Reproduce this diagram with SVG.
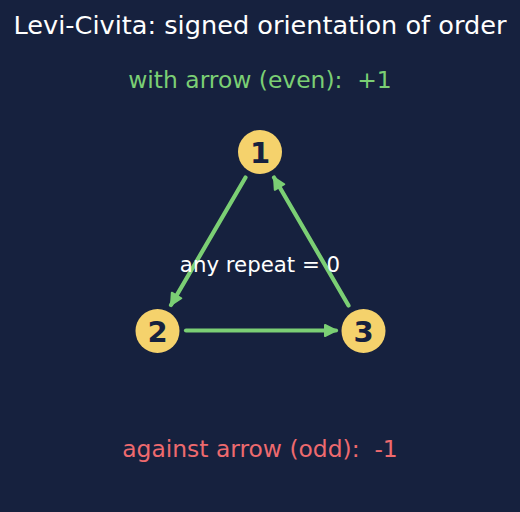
<svg xmlns="http://www.w3.org/2000/svg" width="520" height="512" viewBox="0 0 520 512">
<style>
text{font-family:"DejaVu Sans","Liberation Sans",sans-serif;text-anchor:middle}
.title{font-size:25.6px;fill:#ffffff}
.sub{font-size:23.4px;fill:#7bcf74}
.neg{font-size:23.4px;fill:#ee6a6e}
.mid{font-size:21.3px;fill:#ffffff}
.node circle{fill:#f5d26c}
.node text{font-size:29px;font-weight:bold;fill:#16213e}
.edge{stroke:#7bcf74;stroke-width:4.2;stroke-linecap:round;fill:none}
</style>
<defs>
<marker id="ah" viewBox="-2 -2 16 16" refX="11" refY="6" markerWidth="16" markerHeight="16" markerUnits="userSpaceOnUse" orient="auto">
<path d="M0,0.5 L11,6 L0,11.5 Z" fill="#7bcf74" stroke="#7bcf74" stroke-width="2" stroke-linejoin="round"/>
</marker>
</defs>
<rect width="520" height="512" fill="#16213e"/>
<text class="title" x="260" y="33.5">Levi-Civita: signed orientation of order</text>
<text class="sub" x="260" y="87.5" xml:space="preserve">with arrow (even):  +1</text>
<g id="connectors">
<line class="edge" x1="245.5" y1="177.5" x2="171" y2="305" marker-end="url(#ah)"/>
<line class="edge" x1="186" y1="330.5" x2="336" y2="330.5" marker-end="url(#ah)"/>
<line class="edge" x1="348.5" y1="305.5" x2="274" y2="177.5" marker-end="url(#ah)"/>
</g>
<text class="mid" x="260" y="272">any repeat = 0</text>
<g id="node1" class="node"><circle cx="260" cy="152" r="22"/><text x="260" y="162.5">1</text></g>
<g id="node2" class="node"><circle cx="157.5" cy="331" r="22"/><text x="157.5" y="341.5">2</text></g>
<g id="node3" class="node"><circle cx="363.5" cy="331" r="22"/><text x="363.5" y="341.5">3</text></g>
<text class="neg" x="260" y="457" xml:space="preserve">against arrow (odd):  -1</text>
</svg>
